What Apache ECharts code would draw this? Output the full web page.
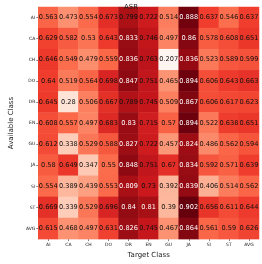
<!DOCTYPE html>
<html><head><meta charset="utf-8">
<script src="https://cdn.jsdelivr.net/npm/echarts@6/dist/echarts.min.js"></script>
<style>html,body{margin:0;padding:0;background:#fff}#c{width:262px;height:264px}</style>
</head><body><div id="c"></div>
<script>
const targetClasses = ['AI','CA','CH','DO','DR','EN','GU','JA','SI','ST','AVG'];
const availableClasses = ['AI','CA','CH','DO','DR','EN','GU','JA','SI','ST','AVG'];
const rowAI  = [0.563,0.473,0.554,0.673,0.799,0.722,0.514,0.888,0.637,0.546,0.637];
const rowCA  = [0.629,0.582,0.53,0.643,0.833,0.746,0.497,0.86,0.578,0.608,0.651];
const rowCH  = [0.646,0.549,0.479,0.559,0.836,0.763,0.207,0.836,0.523,0.589,0.599];
const rowDO  = [0.64,0.519,0.564,0.698,0.847,0.751,0.465,0.894,0.606,0.643,0.663];
const rowDR  = [0.645,0.28,0.506,0.667,0.789,0.745,0.509,0.867,0.606,0.617,0.623];
const rowEN  = [0.608,0.557,0.497,0.683,0.83,0.715,0.57,0.894,0.522,0.638,0.651];
const rowGU  = [0.612,0.338,0.529,0.588,0.827,0.722,0.457,0.824,0.486,0.562,0.594];
const rowJA  = [0.58,0.649,0.347,0.55,0.848,0.751,0.67,0.834,0.592,0.571,0.639];
const rowSI  = [0.554,0.389,0.439,0.553,0.809,0.73,0.392,0.839,0.406,0.514,0.562];
const rowST  = [0.669,0.339,0.529,0.696,0.84,0.81,0.39,0.902,0.656,0.611,0.644];
const rowAVG = [0.615,0.468,0.497,0.631,0.826,0.745,0.467,0.864,0.561,0.59,0.626];
const rows = [rowAI,rowCA,rowCH,rowDO,rowDR,rowEN,rowGU,rowJA,rowSI,rowST,rowAVG];

const data = [];
rows.forEach((r, yi) => r.forEach((v, xi) => data.push([xi, yi, v])));
const allVals = rows.flat();
const vmin = Math.min(...allVals), vmax = Math.max(...allVals);

const chart = echarts.init(document.getElementById('c'), null, {renderer:'canvas'});
const font = 'DejaVu Sans';
const lab = (c) => ({color: c, fontSize: 6.6, fontFamily: font, textBorderWidth: 0, textShadowBlur: 0});
chart.setOption({
  animation: false,
  textStyle: {fontFamily: font},
  title: {text: 'ASR', left: 'center', top: -1, textStyle: {fontSize: 7, fontWeight: 'normal', color: '#222', fontFamily: font}},
  grid: {left: 22, right: 3, top: 7, bottom: 17},
  xAxis: {
    type: 'category', data: targetClasses, position: 'bottom',
    name: 'Target Class', nameLocation: 'middle', nameGap: 11,
    nameTextStyle: {fontSize: 7, color: '#222', fontFamily: font},
    axisLine: {show: false},
    axisTick: {show: true, alignWithLabel: true, length: 2, lineStyle: {color: '#333', width: 0.6}},
    axisLabel: {fontSize: 4.5, color: '#222', margin: 3, interval: 0, fontFamily: font},
    splitLine: {show: false}
  },
  yAxis: {
    type: 'category', data: availableClasses, inverse: true,
    name: 'Available Class', nameLocation: 'middle', nameGap: 15, nameRotate: 90,
    nameTextStyle: {fontSize: 7, color: '#222', fontFamily: font},
    axisLine: {show: false},
    axisTick: {show: true, alignWithLabel: true, length: 2, lineStyle: {color: '#333', width: 0.6}},
    axisLabel: {fontSize: 4.5, color: '#222', margin: 3, interval: 0, fontFamily: font},
    splitLine: {show: false}
  },
  visualMap: {
    show: false, type: 'continuous', min: vmin, max: vmax, dimension: 2,
    inRange: {color: ['#fff5f0','#fee0d2','#fcbba1','#fc9272','#fb6a4a','#ef3b2c','#cb181d','#a50f15','#67000d']}
  },
  series: [{
    type: 'heatmap',
    data: data,
    itemStyle: {borderWidth: 0},
    label: {
      show: true, fontSize: 6.6, fontFamily: font,
      textBorderWidth: 0, textShadowBlur: 0,
      formatter: p => (p.value[2] > 0.8 ? '{w|' : '{b|') + String(p.value[2]) + '}',
      rich: {w: lab('#ffffff'), b: lab('#111111')}
    },
    emphasis: {disabled: true}
  }]
});
</script></body></html>
